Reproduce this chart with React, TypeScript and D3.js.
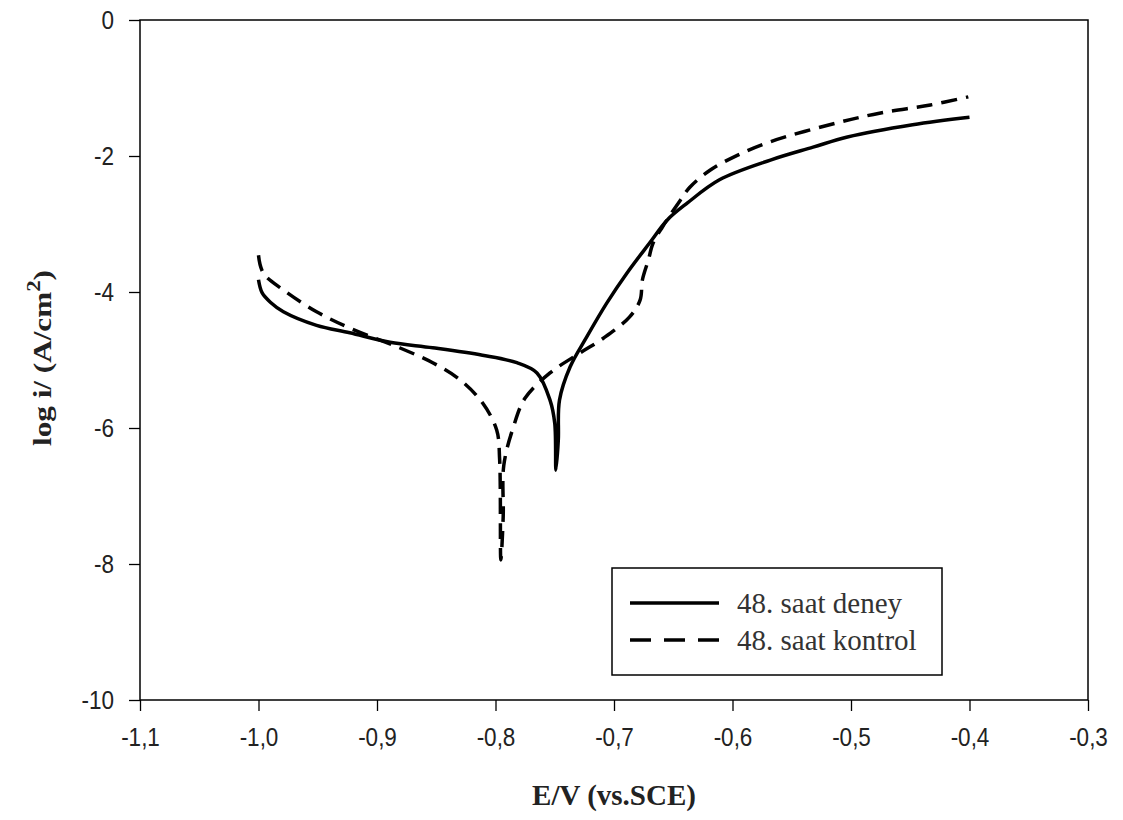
import * as d3 from "d3";
import { useEffect, useRef } from "react";

// 48. saat deney (solid)
const deneyE = [-1.0, -0.997, -0.99, -0.979, -0.951, -0.923, -0.889, -0.853, -0.811, -0.782, -0.765, -0.754, -0.75, -0.749, -0.747, -0.746, -0.737, -0.723, -0.706, -0.689, -0.67, -0.655, -0.638, -0.611, -0.568, -0.532, -0.503, -0.448, -0.4];
const deneyLogI = [-3.82, -4.01, -4.15, -4.29, -4.49, -4.6, -4.74, -4.82, -4.93, -5.04, -5.19, -5.59, -5.93, -6.62, -6.18, -5.59, -5.1, -4.66, -4.16, -3.72, -3.28, -2.94, -2.69, -2.35, -2.06, -1.87, -1.72, -1.54, -1.43];

// 48. saat kontrol (dashed)
const kontrolE = [-1.0, -0.996, -0.979, -0.951, -0.923, -0.881, -0.853, -0.83, -0.811, -0.799, -0.7965, -0.7955, -0.7935, -0.793, -0.785, -0.775, -0.754, -0.729, -0.709, -0.687, -0.678, -0.676, -0.671, -0.667, -0.659, -0.644, -0.636, -0.619, -0.596, -0.568, -0.518, -0.476, -0.433, -0.401];
const kontrolLogI = [-3.46, -3.72, -3.97, -4.29, -4.53, -4.82, -5.04, -5.29, -5.63, -6.03, -6.47, -7.94, -7.3, -6.55, -5.99, -5.56, -5.19, -4.9, -4.68, -4.37, -4.12, -3.82, -3.53, -3.28, -3.04, -2.65, -2.46, -2.21, -1.99, -1.79, -1.54, -1.37, -1.25, -1.13];

const xTicks = [-1.1, -1.0, -0.9, -0.8, -0.7, -0.6, -0.5, -0.4, -0.3];
const yTicks = [0, -2, -4, -6, -8, -10];
const seriesNames = ["48. saat deney", "48. saat kontrol"];

const W = 1123, H = 820;
const margin = { top: 20, right: 35, bottom: 120, left: 140 };

export default function App() {
  const ref = useRef<SVGSVGElement>(null);

  useEffect(() => {
    const svg = d3.select(ref.current);
    svg.selectAll("*").remove();

    const x = d3.scaleLinear().domain([-1.1, -0.3]).range([margin.left, W - margin.right]);
    const y = d3.scaleLinear().domain([-10, 0]).range([H - margin.bottom, margin.top]);

    const tickFont = "'Liberation Sans', Arial, sans-serif";
    const serif = "'Liberation Serif', 'Times New Roman', serif";
    const hyphen = (s: string) => s.replace("\u2212", "-");
    const sx = 0.9; // tick labels look a bit condensed

    // frame
    svg.append("rect")
      .attr("x", x(-1.1)).attr("y", y(0))
      .attr("width", x(-0.3) - x(-1.1)).attr("height", y(-10) - y(0))
      .attr("fill", "none").attr("stroke", "#000").attr("stroke-width", 1.5);

    // x axis
    const gx = svg.append("g")
      .attr("transform", `translate(0, ${y(-10)})`)
      .call(d3.axisBottom(x).tickValues(xTicks).tickSize(11).tickSizeOuter(0)
        .tickFormat((d) => hyphen(d3.format(".1f")(d as number)).replace(".", ",")));
    gx.select(".domain").remove();
    gx.selectAll("line").attr("stroke-width", 1.3);
    gx.selectAll("text").attr("font-family", tickFont).attr("font-size", 25)
      .attr("y", 28).attr("dy", "0.71em").attr("fill", "#222")
      .attr("transform", `scale(${sx},1)`);

    // y axis
    const gy = svg.append("g")
      .attr("transform", `translate(${x(-1.1)}, 0)`)
      .call(d3.axisLeft(y).tickValues(yTicks).tickSize(11).tickSizeOuter(0)
        .tickFormat((d) => hyphen(d3.format("d")(d as number))));
    gy.select(".domain").remove();
    gy.selectAll("line").attr("stroke-width", 1.3);
    gy.selectAll("text").attr("font-family", tickFont).attr("font-size", 25)
      .attr("x", -26 / sx).attr("fill", "#222")
      .attr("transform", `scale(${sx},1)`);

    // axis titles
    svg.append("text")
      .attr("x", (x(-1.1) + x(-0.3)) / 2).attr("y", 805)
      .attr("text-anchor", "middle")
      .attr("font-family", serif).attr("font-weight", "bold").attr("font-size", 29)
      .attr("fill", "#222")
      .text("E/V (vs.SCE)");

    const yt = svg.append("text")
      .attr("transform", `translate(51, ${(y(0) + y(-10)) / 2 - 2}) rotate(-90) scale(1.2,1)`)
      .attr("text-anchor", "middle")
      .attr("font-family", serif).attr("font-weight", "bold").attr("font-size", 26)
      .attr("fill", "#222");
    yt.append("tspan").text("log i/ (A/cm");
    yt.append("tspan").attr("baseline-shift", "super").attr("font-size", 19).text("2");
    yt.append("tspan").text(")");

    // curves
    const line = d3.line<[number, number]>()
      .x((d) => x(d[0]))
      .y((d) => y(d[1]))
      .curve(d3.curveCatmullRom.alpha(0.5));

    const deney: [number, number][] = deneyE.map((e, i) => [e, deneyLogI[i]]);
    const kontrol: [number, number][] = kontrolE.map((e, i) => [e, kontrolLogI[i]]);

    svg.append("path")
      .datum(deney)
      .attr("fill", "none").attr("stroke", "#000").attr("stroke-width", 3.5)
      .attr("d", line);

    svg.append("path")
      .datum(kontrol)
      .attr("fill", "none").attr("stroke", "#000").attr("stroke-width", 3.5)
      .attr("stroke-dasharray", "16 9")
      .attr("d", line);

    // legend
    const lg = svg.append("g").attr("transform", "translate(612, 568)");
    lg.append("rect")
      .attr("width", 330).attr("height", 107)
      .attr("fill", "#fff").attr("stroke", "#000").attr("stroke-width", 1.5);
    seriesNames.forEach((name, i) => {
      const ly = 35 + i * 37;
      lg.append("line")
        .attr("x1", 18).attr("x2", 107).attr("y1", ly).attr("y2", ly)
        .attr("stroke", "#000").attr("stroke-width", 3.5)
        .attr("stroke-dasharray", i === 1 ? "21 13" : null);
      lg.append("text")
        .attr("x", 125).attr("y", ly).attr("dy", "0.33em")
        .attr("font-family", serif).attr("font-size", 29).attr("fill", "#333")
        .text(name);
    });
  }, []);

  return (
    <div style={{ position: "absolute", left: 0, top: 0 }}>
      <svg ref={ref} width={W} height={H} style={{ display: "block", background: "#fff" }} />
    </div>
  );
}
